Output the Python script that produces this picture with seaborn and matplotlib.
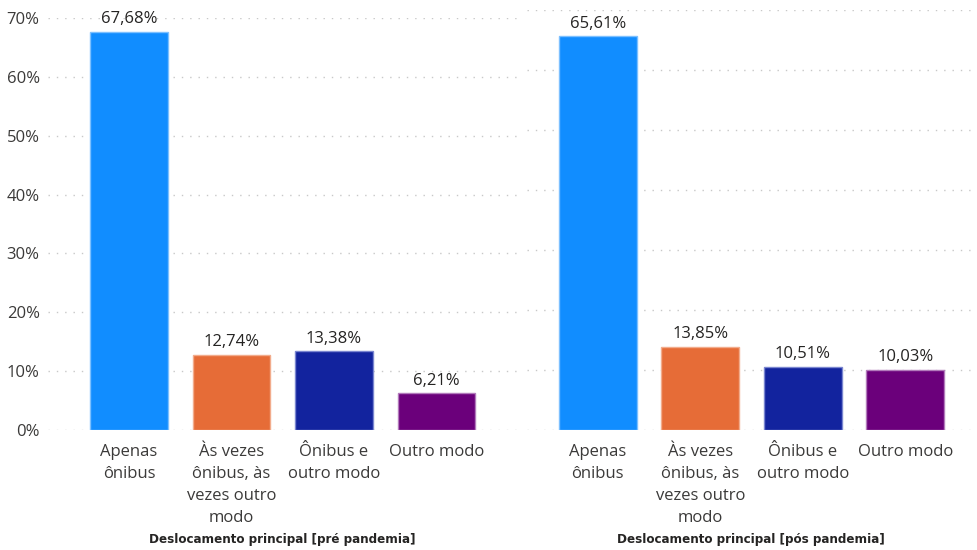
import matplotlib
matplotlib.use("Agg")
import matplotlib.pyplot as plt
import seaborn as sns
import pandas as pd

categories = ["Apenas\nônibus", "Às vezes\nônibus, às\nvezes outro\nmodo",
              "Ônibus e\noutro modo", "Outro modo"]
pre_values = [67.68, 12.74, 13.38, 6.21]
pos_values = [65.61, 13.85, 10.51, 10.03]
y_ticks = [0, 10, 20, 30, 40, 50, 60, 70]
pre_title = "Deslocamento principal [pré pandemia]"
pos_title = "Deslocamento principal [pós pandemia]"

colors = ["#118DFF", "#E66C37", "#12239E", "#6B007B"]
edges = ["#7CC0FF", "#F2AC8C", "#7A86D0", "#B27ABB"]

sns.set_theme(style="white")
plt.rcParams["font.family"] = ["Open Sans", "DejaVu Sans"]

W, H = 977, 550
fig = plt.figure(figsize=(W / 100, H / 100), dpi=100)
fig.patch.set_facecolor("white")

def make_axes(x0, x1, y_top, y_bot):
    return fig.add_axes([x0 / W, (H - y_bot) / H, (x1 - x0) / W, (y_bot - y_top) / H])

ax_pre = make_axes(48, 517, 18, 430)
ax_pos = make_axes(527, 975, 10, 430)

def draw(ax, values, title, show_y, xlim):
    df = pd.DataFrame({"cat": categories, "val": values})
    sns.barplot(data=df, x="cat", y="val", hue="cat", palette=colors,
                width=0.76, legend=False, ax=ax, saturation=1)
    for patch, ec in zip(ax.patches, edges):
        patch.set_edgecolor(ec)
        patch.set_linewidth(1)
    for i, v in enumerate(values):
        ax.text(i, v + 0.8, f"{v:.2f}".replace(".", ",") + "%",
                ha="center", va="bottom", fontsize=12, color="#252423",
                clip_on=False)
    ax.set_ylim(0, 70)
    ax.set_xlim(*xlim)
    ax.set_yticks(y_ticks)
    ax.grid(axis="y", color="#C8C8C8", linestyle=(0, (1, 5)), linewidth=1)
    ax.set_axisbelow(True)
    if show_y:
        ax.set_yticklabels([f"{t}%" for t in y_ticks])
    else:
        ax.set_yticklabels([])
    ax.tick_params(axis="y", length=0, pad=6, labelsize=12, labelcolor="#3B3A39")
    ax.tick_params(axis="x", length=0, pad=10, labelsize=12, labelcolor="#3B3A39")
    for lbl in ax.get_xticklabels():
        lbl.set_linespacing(1.5)
        lbl.set_va("top")
    for s in ax.spines.values():
        s.set_visible(False)
    ax.set_ylabel("")
    ax.set_xlabel(title, fontsize=9.5, fontweight="bold", color="#252423",
                  family="DejaVu Sans", fontstretch="condensed", labelpad=5)

draw(ax_pre, pre_values, pre_title, True, (-0.79, 3.785))
draw(ax_pos, pos_values, pos_title, False, (-0.69, 3.68))

fig.savefig("out.png", dpi=100)
